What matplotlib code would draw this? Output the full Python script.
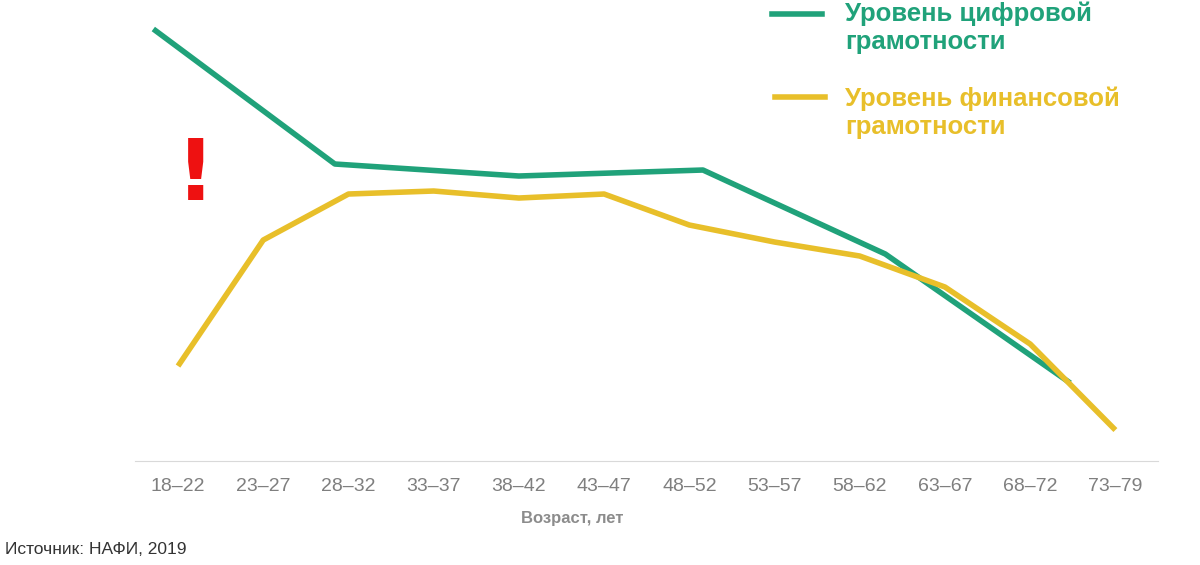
import matplotlib
matplotlib.use("Agg")
import matplotlib.pyplot as plt

categories = ["18–22","23–27","28–32","33–37","38–42","43–47","48–52","53–57","58–62","63–67","68–72","73–79"]
fin_values = [95, 221, 267, 270, 263, 267, 236, 219, 205, 174, 117, 31]
dig_x = [-0.29, 1.84, 4.0, 6.16, 8.3, 10.47]
dig_values = [432, 297, 285, 291, 207, 78]

green = "#20a27a"
yellow = "#e8bf2a"

fig = plt.figure(figsize=(12, 5.65), dpi=100)
ax = fig.add_axes([0.1125, 0.184, 0.8525, 0.816])
ax.plot(dig_x, dig_values, color=green, lw=4, solid_capstyle="butt")
ax.plot(range(len(categories)), fin_values, color=yellow, lw=4, solid_capstyle="butt")
ax.set_xlim(-0.505, 11.5)
ax.set_ylim(0, 461)
ax.set_xticks(range(len(categories)))
ax.set_xticklabels(categories, color="#7f7f7f", fontsize=14, fontname="Liberation Sans")
ax.tick_params(axis="x", length=0, pad=12)
ax.set_yticks([])
for s in ["top", "right", "left"]:
    ax.spines[s].set_visible(False)
ax.spines["bottom"].set_color("#d9d9d9")

fig.text(572/1200, 1-519/565, "Возраст, лет", color="#8c8c8c", fontsize=12, fontweight="bold",
         ha="center", va="center", fontname="Liberation Sans")

# exclamation mark
ax.text(0.2, 285, "!", color="#ee1111", fontsize=62, fontweight="bold", ha="center", va="center",
        fontname="Liberation Sans Narrow")

# legend
fig.add_artist(plt.Line2D([772/1200, 822/1200], [1-14/565, 1-14/565], color=green, lw=4, transform=fig.transFigure))
fig.add_artist(plt.Line2D([775/1200, 825/1200], [1-97/565, 1-97/565], color=yellow, lw=4, transform=fig.transFigure))
fig.text(845/1200, 1-28/565, "Уровень цифровой\nграмотности", color=green, fontsize=18.5, fontweight="bold",
         va="center", ha="left", linespacing=1.2, fontname="Liberation Sans")
fig.text(845/1200, 1-113/565, "Уровень финансовой\nграмотности", color=yellow, fontsize=18.5, fontweight="bold",
         va="center", ha="left", linespacing=1.2, fontname="Liberation Sans")

fig.text(5/1200, 1-549/565, "Источник: НАФИ, 2019", color="#333333", fontsize=12.5,
         va="center", ha="left", fontname="Liberation Sans")

fig.savefig("out.png", dpi=100, facecolor="white")
